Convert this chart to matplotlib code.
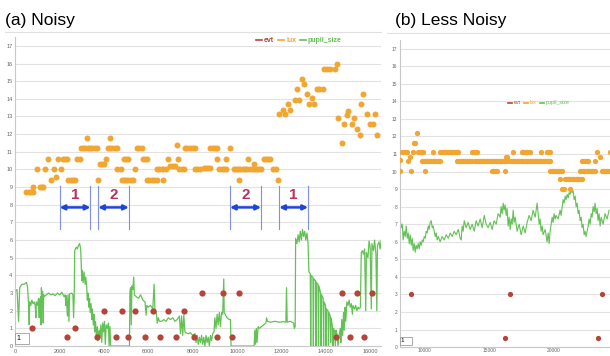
import matplotlib.pyplot as plt
from matplotlib.lines import Line2D

plt.rcParams["font.family"] = ["Liberation Sans", "DejaVu Sans"]

# ==========================
# DADOS - (a) NOISY
# ==========================

lux_a_x = [500, 600, 700, 800, 820, 1100, 1200, 1260, 1000, 1350, 1470, 1600, 1730, 1830,
           1920, 2060, 2150, 2250, 2330, 2400, 2500, 2600, 2700, 2800, 2930, 2950, 3050,
           3150, 3230, 3280, 3380, 3480, 3580, 3680, 3750, 3830, 3920, 4000, 4100, 4180,
           4280, 4380, 4480, 4580, 4280, 4600, 4760, 4800, 4900, 5000, 5100, 5200, 5330,
           4900, 5000, 5100, 5400, 5480, 5580, 5700, 5750, 5850, 5930, 5950, 6050, 6150,
           6250, 6380, 6400, 6500, 6600, 6680, 6680, 6800, 6900, 6980, 7100, 7200, 7280,
           7350, 7400, 7500, 7600, 7660, 7760, 7880, 8000, 8100, 8100, 8200, 8330, 8500,
           8600, 8700, 8800, 8800, 8900, 9000, 9100, 9100, 9200, 9300, 9400, 9500, 9500,
           9700, 9850, 9950, 10050, 10150, 10250, 10350, 10450, 10600, 10700, 10800, 10900,
           11000, 11100, 10100, 10500, 10770, 11200, 11300, 11400, 11500, 11600, 11750,
           11850, 11900, 12050, 12160, 12280, 12400, 12600, 12690, 12800, 12930, 13030,
           13150, 13260, 13380, 13480, 13600, 13700, 13860, 13920, 14050, 14200, 14400,
           14500, 14560, 14720, 14820, 14940, 15000, 15170, 15270, 15390, 15540, 15600,
           15660, 15840, 16000, 16140, 16200, 16300]
lux_a_y = [8.75, 8.75, 8.75, 8.75, 9.0, 9.0, 9.0, 9.0, 10.0, 10.0, 10.6, 9.4, 10.0, 9.6,
           10.6, 10.0, 10.6, 10.6, 10.6, 9.4, 9.4, 9.4, 9.4, 10.6, 10.6, 11.2, 11.2,
           11.2, 11.8, 11.2, 11.2, 11.2, 11.2, 11.2, 9.4, 10.3, 10.3, 10.3, 10.6, 11.2,
           11.2, 11.2, 11.2, 11.2, 11.8, 10.0, 10.0, 9.4, 9.4, 9.4, 9.4, 9.4, 9.4,
           10.6, 10.6, 10.6, 10.0, 11.2, 11.2, 11.2, 10.6, 10.6, 10.6, 9.4, 9.4, 9.4,
           9.4, 9.4, 10.0, 10.0, 10.0, 10.0, 9.4, 10.0, 10.6, 10.2, 10.2, 10.2, 11.4,
           10.6, 10.0, 10.0, 10.0, 11.2, 11.2, 11.2, 11.2, 11.2, 10.0, 10.0, 10.0, 10.1,
           10.1, 10.1, 10.1, 11.2, 11.2, 11.2, 11.2, 10.6, 10.0, 10.0, 10.0, 10.0, 10.6,
           11.2, 10.0, 10.0, 10.0, 10.0, 10.0, 10.0, 10.0, 10.0, 10.0, 10.0, 10.0,
           10.0, 10.0, 9.4, 10.6, 10.3, 10.6, 10.6, 10.6, 10.6, 10.0, 10.0,
           9.4, 13.15, 13.35, 13.15, 13.7, 13.35, 13.95, 14.55, 13.95, 15.1, 14.85,
           14.25, 13.7, 14.05, 13.7, 14.55, 14.55, 14.55, 15.7, 15.7, 15.7, 15.7,
           16.0, 12.9, 11.5, 12.55, 13.1, 13.3, 12.55, 12.9, 12.3, 11.95, 13.7,
           14.3, 13.15, 12.55, 12.55, 13.15, 11.95]

evt_a_x = [750, 2330, 2700, 3680, 4020, 4550, 4830, 5090, 5420, 5860, 6230, 6530, 6880,
           7250, 7610, 8050, 8410, 9080, 9380, 9760, 10090, 14440, 14740, 15090, 15420,
           15720, 16070]
evt_a_y = [1, 0.5, 1, 0.5, 2, 0.5, 2, 0.5, 2, 0.5, 2, 0.5, 2,
           0.5, 2, 0.5, 3, 0.5, 3, 0.5, 3, 0.5, 3, 0.5, 3,
           0.5, 3]

pupil_a_x = [0, 80, 150, 200, 300, 400, 500, 550, 600, 630, 650, 700, 750, 800, 850, 900,
             930, 950, 1000, 1050, 1080, 1100, 1150, 1160, 1180, 1200, 1230, 1260, 1280,
             1300, 1400, 1500, 1600, 1700, 1800, 1900, 2000, 2100, 2200, 2250, 2280, 2300,
             2350, 2380, 2420, 2450, 2550, 2600, 2630, 2660, 2680, 2750, 2800, 2850, 2900,
             2950, 2980, 3000, 3020, 3060, 3100, 3150, 3180, 3220, 3250, 3280, 3320, 3350,
             3380, 3420, 3450, 3480, 3520, 3550, 3580, 3620, 3650, 3700, 3730, 3780, 3820,
             3860, 3900, 3940, 3980, 4020, 4060, 4100, 4150, 4200, 4230, 4270, 4300, 5150,
             5170, 5200, 5230, 5260, 5300, 5340, 5370, 5450, 5550, 5650, 5750, 5850, 5900,
             5930, 6000, 6100, 6200, 6260, 6300, 6350, 6400, 6450, 6500, 6600, 6700, 6800,
             6900, 7000, 7100, 7200, 7300, 7400, 7450, 7500, 7550, 7600, 7650, 7700, 7800,
             7900, 8000, 8100, 8150, 8200, 8250, 8300, 8350, 8400, 8450, 8500, 8550, 8600,
             8650, 8700, 8750, 8800, 8850, 8900, 8960, 9000, 9050, 9100, 9150, 9200, 9250,
             9300, 9350, 9400, 9420, 9500, 9550, 9650, 9700, 9730, 10770, 10800, 10830,
             10870, 10900, 10950, 11000, 11100, 11200, 11300, 11330, 11370, 11500, 11700,
             11900, 12100, 12200, 12230, 12260, 12400, 12550, 12580, 12620, 12640, 12700,
             12750, 12800, 12850, 12900, 12950, 13000, 13050, 13100, 13150, 13200, 13240,
             13300, 13320, 13340, 13420, 13440, 13460, 13540, 13560, 13580, 13650, 13670,
             13690, 13770, 13790, 13810, 13880, 13900, 13920, 13990, 14010, 14030, 14100,
             14120, 14140, 14200, 14220, 14240, 14300, 14320, 14350, 14400, 14430, 14460,
             14500, 14550, 14600, 14650, 14680, 14720, 14760, 14800, 14830, 14870, 14900,
             14950, 15000, 15050, 15100, 15150, 15200, 15230, 15300, 15350, 15400, 15450,
             15500, 15560, 15600, 15650, 15700, 15750, 15800, 15830, 15900, 15950, 16000,
             16050, 16080, 16150, 16200, 16260, 16300, 16330, 16400, 16450, 16500]
pupil_a_y = [3.1, 3.2, 1.4, 3.3, 3.5, 3.5, 3.6, 3.4, 2.4, 1.2, 2.5, 2.3, 2.6, 2.4, 2.5, 2.3,
             1.6, 2.5, 2.3, 2.7, 1.6, 2.6, 2.8, 1.2, 3.3, 2.2, 3.1, 1.3, 2.9,
             2.8, 2.9, 3.0, 2.9, 2.95, 2.85, 3.0, 2.9, 3.05, 2.8, 2.9, 2.3, 2.85,
             1.7, 2.9, 1.4, 2.95, 3.0, 2.9, 1.6, 2.9, 5.4, 5.6, 5.5, 5.7, 5.8,
             5.5, 4.4, 3.7, 4.3, 3.6, 4.2, 3.5, 3.9, 3.4, 2.6, 3.0, 2.2, 2.7,
             1.9, 2.4, 1.5, 2.1, 1.2, 1.8, 0.8, 1.4, 0.6, 1.1, 0.3, 0.9, 0.5,
             1.2, 0.2, 1.3, 0.8, 1.4, 0.1, 1.2, 1.0, 1.3, 0.0, 1.1, 0.0, 0.0,
             3.1, 3.3, 1.2, 3.4, 3.2, 3.9, 2.9, 2.8, 2.7, 2.9, 2.6, 2.5, 1.75,
             2.3, 2.2, 2.3, 2.1, 3.5, 1.9, 2.0, 1.3, 1.6, 1.4, 1.4, 1.5, 1.4,
             1.6, 1.5, 1.6, 1.4, 1.5, 1.7, 0.7, 1.7, 0.6, 1.75, 0.8, 0.75, 0.7,
             0.75, 0.6, 0.7, 0.2, 0.6, 0.1, 0.5, 0.2, 0.6, 0.1, 0.5, 0.0, 0.6,
             0.2, 0.5, 0.0, 0.6, 0.3, 0.7, 0.8, 1.6, 1.0, 1.8, 1.2, 1.9, 1.1,
             1.9, 1.8, 3.8, 1.9, 1.7, 1.6, 1.5, 1.5, 0.0, 0.0, 0.9, 0.1,
             1.0, 0.2, 1.1, 1.0, 1.1, 1.2, 1.3, 1.6, 1.4, 1.35, 1.4,
             1.35, 1.38, 1.35, 3.3, 1.35, 1.4, 1.3, 1.0, 1.1, 6.1, 5.8,
             6.3, 5.9, 6.5, 6.0, 6.6, 6.2, 6.5, 6.0, 6.4, 5.8, 4.2,
             4.1, 0.0, 4.0, 3.9, 0.0, 3.8, 3.7, 0.0, 3.6, 3.5, 0.0,
             3.4, 3.0, 0.0, 2.9, 2.7, 0.0, 2.5, 2.3, 0.0, 2.1, 2.0,
             0.0, 1.9, 1.7, 0.2, 1.6, 1.1, 0.0, 1.0, 0.8, 0.0, 0.9,
             0.7, 0.0, 0.6, 1.0, 0.2, 1.5, 0.6, 1.9, 0.9, 2.2, 1.4,
             2.5, 2.3, 2.6, 2.2, 2.4, 1.8, 2.3, 2.1, 2.3, 2.0, 2.2,
             2.1, 2.2, 5.3, 5.4, 5.2, 5.5, 2.0, 5.3, 5.0, 5.95, 5.6,
             2.1, 5.8, 5.4, 6.0, 5.2, 2.0, 5.7, 5.9, 5.5, 6.0]

# intervalos marcados (inicio, fim, rotulo)
spans_a = [(2000, 3390, "1"), (3740, 5120, "2"), (9680, 11080, "2"), (11900, 13200, "1")]

# ==========================
# DADOS - (b) LESS NOISY
# ==========================

lux_b_x = [8150, 8150, 8300, 8400, 8500, 8600, 8670, 8790, 8870, 9000, 9130, 9250, 9320,
           9440, 9540, 9650, 9750, 9850, 9920, 9850, 9950, 10050, 10150, 10250, 10350,
           10450, 10550, 10650, 10750, 10850, 10950, 11050, 11150, 11230, 10080, 10670,
           11250, 11350, 11450, 11550, 11650, 11750, 11850, 11950, 12050, 12150, 12250,
           12350, 12450, 12550, 12640, 12520, 12620, 12720, 12820, 12920, 13020, 13120,
           13220, 13320, 13420, 13520, 13670, 13700, 13800, 13900, 14050, 13920, 14020,
           14120, 14220, 14320, 14420, 14520, 14620, 14720, 14820, 14920, 15020, 15120,
           15220, 15320, 15420, 15520, 15620, 15720, 15820, 15920, 16020, 16120, 16220,
           16360, 15210, 15300, 15400, 15500, 15590, 16230, 16300, 16400, 16870, 16620,
           16720, 16820, 16920, 17020, 17120, 17220, 17320, 17420, 17520, 17620, 17720,
           17820, 17920, 18020, 18120, 18220, 18320, 18420, 18520, 18620, 18720, 18820,
           18920, 19020, 19120, 19220, 19320, 19420, 19520, 19620, 19690, 17520, 17620,
           17720, 17850, 17950, 18150, 19000, 19440, 19550, 19690, 19700, 19800, 19900,
           20000, 20100, 20200, 20300, 20400, 20500, 20590, 20460, 20850, 20950, 21050,
           21150, 21250, 21350, 21450, 21550, 21650, 21750, 21850, 21950, 22050, 22130,
           20600, 20750, 21230, 22000, 22100, 22200, 22300, 22400, 22500, 22600, 22700,
           22800, 22900, 23000, 23150, 22130, 22250, 22400, 22550, 22640, 23150, 23290,
           23540, 23670, 23770, 23870, 23970, 24070, 24170, 24270, 24300]
lux_b_y = [10.65, 10.05, 11.1, 11.1, 11.1, 11.1, 11.1, 10.6, 10.85, 10.05, 11.1, 11.65, 11.65,
           12.2, 11.1, 11.1, 11.1, 11.1, 11.1, 10.6, 10.6, 10.6, 10.6, 10.6, 10.6,
           10.6, 10.6, 10.6, 10.6, 10.6, 10.6, 10.6, 10.6, 10.6, 10.05, 11.1,
           11.1, 11.1, 11.1, 11.1, 11.1, 11.1, 11.1, 11.1, 11.1, 11.1, 11.1,
           11.1, 11.1, 11.1, 11.1, 10.6, 10.6, 10.6, 10.6, 10.6, 10.6, 10.6,
           10.6, 10.6, 10.6, 10.6, 10.6, 11.1, 11.1, 11.1, 11.1, 10.6, 10.6,
           10.6, 10.6, 10.6, 10.6, 10.6, 10.6, 10.6, 10.6, 10.6, 10.6, 10.6,
           10.6, 10.6, 10.6, 10.6, 10.6, 10.6, 10.6, 10.6, 10.6, 10.6, 10.6,
           10.6, 10.05, 10.05, 10.05, 10.05, 10.05, 10.05, 10.85, 10.8, 11.1, 10.6,
           10.6, 10.6, 10.6, 10.6, 10.6, 10.6, 10.6, 10.6, 10.6, 10.6, 10.6,
           10.6, 10.6, 10.6, 10.6, 10.6, 10.6, 10.6, 10.6, 10.6, 10.6, 10.6,
           10.6, 10.6, 10.6, 10.6, 10.6, 10.6, 10.6, 10.6, 10.6, 11.1, 11.1,
           11.1, 11.1, 11.1, 11.1, 11.1, 11.1, 11.1, 11.1, 10.05, 10.05, 10.05,
           10.05, 10.05, 10.05, 10.05, 10.05, 10.05, 10.05, 9.6, 9.6, 9.6, 9.6,
           9.6, 9.6, 9.6, 9.6, 9.6, 9.6, 9.6, 9.6, 9.6, 9.6, 9.6,
           9.0, 9.0, 9.0, 10.05, 10.05, 10.05, 10.05, 10.05, 10.05, 10.05, 10.05,
           10.05, 10.05, 10.05, 10.05, 10.6, 10.6, 10.6, 10.6, 10.6, 10.6, 11.1,
           10.85, 10.05, 10.05, 10.05, 10.05, 10.05, 10.05, 10.05, 11.1]

evt_b_x = [9000, 16600, 23700, 16200, 23400]
evt_b_y = [3, 3, 3, 0.5, 0.5]

pupil_b_x = [8150, 8230, 8310, 8380, 8460, 8540, 8620, 8690, 8770, 8850, 8920, 9000, 9080,
             9150, 9230, 9310, 9380, 9460, 9540, 9620, 9690, 9770, 9850, 9920, 10000,
             10080, 10150, 10230, 10310, 10380, 10460, 10540, 10620, 10690, 10770, 10850,
             10920, 11000, 11080, 11230, 11380, 11540, 11690, 11850, 12000, 12150, 12310,
             12460, 12620, 12770, 12850, 12920, 13000, 13080, 13230, 13380, 13540, 13690,
             13850, 14000, 14150, 14310, 14460, 14620, 14770, 14920, 15080, 15230, 15380,
             15540, 15690, 15850, 15920, 16000, 16080, 16150, 16230, 16310, 16380, 16460,
             16540, 16620, 16690, 16770, 16850, 16920, 17000, 17150, 17310, 17460, 17620,
             17770, 17920, 18080, 18230, 18380, 18540, 18690, 18770, 18850, 18920, 19000,
             19080, 19150, 19310, 19460, 19540, 19620, 19690, 19770, 19850, 19920, 20000,
             20080, 20150, 20310, 20460, 20540, 20620, 20690, 20770, 20850, 20920, 21000,
             21080, 21150, 21230, 21310, 21380, 21460, 21540, 21620, 21690, 21770, 21850,
             21920, 22000, 22080, 22150, 22230, 22310, 22380, 22460, 22540, 22620, 22690,
             22770, 22850, 22920, 23000, 23080, 23150, 23230, 23310, 23380, 23460, 23540,
             23620, 23770, 23920, 24080, 24230]
pupil_b_y = [7.3, 6.8, 7.0, 6.1, 6.6, 6.3, 6.9, 6.2, 6.5, 5.9, 6.4, 5.8, 6.2,
             5.5, 5.9, 5.4, 5.8, 5.6, 5.9, 5.6, 6.0, 5.8, 6.1, 6.0, 6.3,
             6.2, 6.6, 6.5, 6.9, 6.7, 7.1, 7.2, 6.8, 6.9, 6.6, 6.3,
             6.5, 6.1, 6.3, 6.0, 6.3, 6.1, 6.4, 6.2, 6.5, 6.3, 6.6,
             6.4, 6.7, 6.2, 6.1, 6.9, 6.6, 7.2, 6.8, 7.1, 6.7, 7.0,
             6.6, 7.2, 6.9, 7.3, 6.8, 7.5, 7.0, 6.8, 7.1, 6.7, 7.2,
             7.0, 7.6, 7.4, 8.0, 7.6, 8.2, 7.8, 8.1, 7.5, 7.9, 6.9,
             7.4, 6.7, 7.3, 7.0, 7.8, 7.1, 7.4, 6.6, 7.0, 6.4, 6.9,
             6.5, 7.1, 7.5, 7.2, 7.8, 7.4, 8.2, 7.6, 7.0, 7.3, 6.6,
             6.9, 6.4, 6.7, 6.0, 6.5, 5.9, 6.6, 7.0, 7.4, 7.1, 7.6,
             7.3, 7.5, 7.3, 7.8, 7.5, 8.0, 8.4, 8.2, 8.6, 8.4, 8.7,
             8.5, 8.8, 8.7, 9.0, 8.8, 8.9, 8.4, 8.6, 8.0, 8.2, 7.6,
             7.8, 7.2, 7.4, 6.8, 7.0, 6.4, 6.6, 6.3, 6.6, 6.9, 7.3,
             7.0, 7.6, 7.4, 8.0, 7.7, 8.2, 7.6, 7.9, 7.2, 7.6, 6.9,
             7.4, 7.0, 7.6, 7.3, 7.8]

cor_evt = "#b5453b"
cor_lux = "#f0a630"
cor_pupil = "#63c155"

# ==========================
# FIGURA
# ==========================

fig = plt.figure(figsize=(6.1, 3.56), dpi=100)
ax1 = fig.add_axes([0.025, 0.028, 0.6, 0.868])
ax2 = fig.add_axes([0.656, 0.025, 0.344, 0.863])


def estilo(ax, xlim, xticks, fs, pad):
    ax.set_xlim(*xlim)
    ax.set_ylim(0, 17.5)
    ax.set_yticks(range(0, 18))
    ax.set_xticks(xticks)
    ax.grid(axis="y", color="#e2e2e2", linewidth=0.8)
    ax.set_axisbelow(True)
    for s in ["top", "right"]:
        ax.spines[s].set_visible(False)
    for s in ["left", "bottom"]:
        ax.spines[s].set_color("#c8c8c8")
        ax.spines[s].set_linewidth(0.8)
    ax.tick_params(labelsize=fs, colors="#666666", length=0, pad=2)
    ax.tick_params(axis="x", pad=pad)


estilo(ax1, (0, 16500), range(0, 16001, 2000), 4, 2)
estilo(ax2, (8150, 24300), [10000, 15000, 20000], 3.5, 0.8)

# ==========================
# SERIES
# ==========================

ax1.plot(pupil_a_x, pupil_a_y, color=cor_pupil, linewidth=0.9, zorder=2)
ax1.plot(lux_a_x, lux_a_y, "o", color=cor_lux, markersize=4.3, markeredgewidth=0, zorder=3)
ax1.plot(evt_a_x, evt_a_y, "o", color=cor_evt, markersize=4.5, markeredgewidth=0, zorder=4)

ax2.plot(pupil_b_x, pupil_b_y, color=cor_pupil, linewidth=0.8, zorder=2)
ax2.plot(lux_b_x, lux_b_y, "o", color=cor_lux, markersize=3.8, markeredgewidth=0, zorder=3)
ax2.plot(evt_b_x, evt_b_y, "o", color=cor_evt, markersize=3.8, markeredgewidth=0, zorder=4)

# ==========================
# INTERVALOS (setas azuis)
# ==========================

for inicio, fim, rotulo in spans_a:
    for xv in (inicio, fim):
        ax1.plot([xv, xv], [6.6, 9.05], color="#7f90e6", linewidth=0.8, zorder=5)
    ax1.annotate("", xy=(fim, 7.85), xytext=(inicio, 7.85),
                 arrowprops=dict(arrowstyle="<|-|>", color="#1f44d6",
                                 linewidth=1.8, mutation_scale=7,
                                 shrinkA=0, shrinkB=0), zorder=6)
    ax1.text((inicio + fim) / 2, 8.55, rotulo, color="#b8325e", fontsize=11,
             fontweight="bold", ha="center", va="center", zorder=6)

# ==========================
# LEGENDAS
# ==========================

handles = [Line2D([], [], color=cor_evt, linewidth=1.2),
           Line2D([], [], color=cor_lux, linewidth=1.2),
           Line2D([], [], color=cor_pupil, linewidth=1.2)]
labels = ["evt", "lux", "pupil_size"]

ax1.legend(handles, labels, loc="center left", bbox_to_anchor=(0.64, 0.988),
           ncol=3, frameon=False, labelcolor="linecolor",
           handlelength=0.9, handletextpad=0.3, columnspacing=0.5,
           prop={"weight": "bold", "size": 5})
ax2.legend(handles, labels, loc="center left", bbox_to_anchor=(0.49, 0.795),
           ncol=3, frameon=False, labelcolor="linecolor",
           handlelength=0.9, handletextpad=0.3, columnspacing=0.5,
           prop={"size": 3.8})

# caixinha "1" (periodo de rolagem)
for ax, fs in ((ax1, 5), (ax2, 4.5)):
    ax.text(0.006, 0.012, "1   ", transform=ax.transAxes, fontsize=fs,
            ha="left", va="bottom", zorder=7,
            bbox=dict(boxstyle="square,pad=0.3", fc="white", ec="#888888", lw=0.5))

# ==========================
# TITULOS
# ==========================

fig.text(5 / 610, 1 - 20 / 356, "(a) Noisy", fontsize=12.5, va="center", ha="left")
fig.text(395 / 610, 1 - 20 / 356, "(b) Less Noisy", fontsize=12.5, va="center", ha="left")
fig.add_artist(Line2D([5 / 610, 381 / 610], [1 - 32 / 356] * 2, color="#e0e0e0", linewidth=0.8))
fig.add_artist(Line2D([387 / 610, 1.0], [1 - 33 / 356] * 2, color="#e0e0e0", linewidth=0.8))

plt.savefig("out.png", dpi=100)
